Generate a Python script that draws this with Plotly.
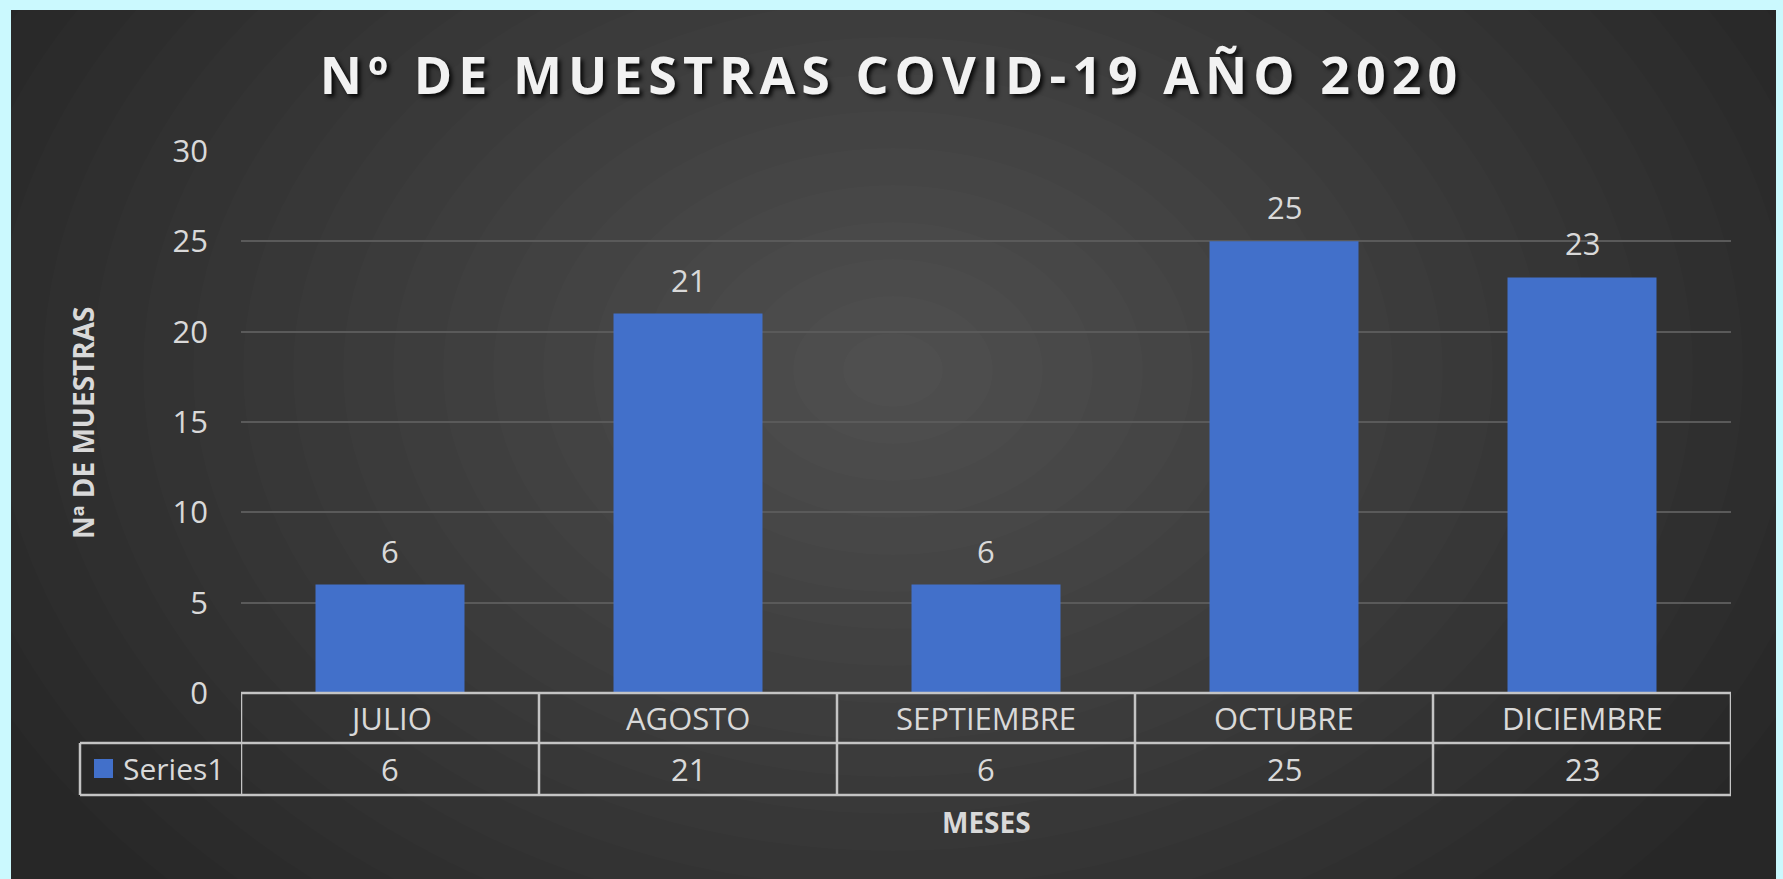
import plotly.graph_objects as go

# ---- data ----
months = ["JULIO", "AGOSTO", "SEPTIEMBRE", "OCTUBRE", "DICIEMBRE"]
samples = [6, 21, 6, 25, 23]
series_name = "Series1"
title_text = "Nº DE MUESTRAS COVID-19 AÑO 2020"
y_title = "Nª DE MUESTRAS"
x_title = "MESES"
y_ticks = [0, 5, 10, 15, 20, 25, 30]

# ---- geometry (pixels) ----
W, H = 1783, 879
L, R, T, B = 241, 52, 151, 186
PW, PH = W - L - R, H - T - B


def px2x(px):
    return (px - L) / PW


def py2y(py):
    return (H - B - py) / PH


BAR = "#4270CA"
TXT = "#D9D9D9"
LINE = "#C4C4C4"
CYAN = "#CBF9FE"
FONT = "Open Sans"

fig = go.Figure()
fig.add_trace(go.Bar(x=months, y=samples, name=series_name,
                     marker=dict(color=BAR, line=dict(width=0)),
                     showlegend=False, hoverinfo="x+y"))

shapes = []
# radial-ish background glow
N = 20
cx, cy, rx, ry = 893, 370, 1000, 740
for i in range(N):
    k = 1 - i / N
    shapes.append(dict(type="circle", xref="paper", yref="paper", layer="below",
                       x0=px2x(cx - rx * k), x1=px2x(cx + rx * k),
                       y0=py2y(cy + ry * k), y1=py2y(cy - ry * k),
                       fillcolor="rgba(255,255,255,0.0125)", line=dict(width=0)))
# cyan frame
for (a, b, c, d) in [(-10, 11, -10, 890), (-10, 1795, -10, 10), (1776, 1795, -10, 890)]:
    shapes.append(dict(type="rect", xref="paper", yref="paper", layer="below",
                       x0=px2x(a), x1=px2x(b), y0=py2y(d), y1=py2y(c),
                       fillcolor=CYAN, line=dict(width=0)))

# data table
y_top, y_mid, y_bot = py2y(693), py2y(743), py2y(795)
lw = 2.5
shapes.append(dict(type="line", xref="x", yref="paper", x0=-0.5, x1=len(months) - 0.5,
                   y0=y_top, y1=y_top, line=dict(color=LINE, width=lw)))
shapes.append(dict(type="line", xref="paper", yref="paper", x0=px2x(80), x1=1,
                   y0=y_mid, y1=y_mid, line=dict(color=LINE, width=lw)))
shapes.append(dict(type="line", xref="paper", yref="paper", x0=px2x(80), x1=1,
                   y0=y_bot, y1=y_bot, line=dict(color=LINE, width=lw)))
shapes.append(dict(type="line", xref="paper", yref="paper", x0=px2x(80), x1=px2x(80),
                   y0=y_mid, y1=y_bot, line=dict(color=LINE, width=lw)))
for i in range(len(months) + 1):
    shapes.append(dict(type="line", xref="x", yref="paper", x0=i - 0.5, x1=i - 0.5,
                       y0=y_top, y1=y_bot, line=dict(color=LINE, width=lw)))
# legend key
shapes.append(dict(type="rect", xref="paper", yref="paper",
                   x0=px2x(94), x1=px2x(113), y0=py2y(778), y1=py2y(759),
                   fillcolor=BAR, line=dict(width=0)))

ann = []
for m, v in zip(months, samples):
    ann.append(dict(x=m, y=v, xref="x", yref="y", text=str(v), showarrow=False,
                    xanchor="center", yanchor="middle",
                    yshift=34, font=dict(family=FONT, size=31, color=TXT)))
    ann.append(dict(x=m, y=py2y(718), xref="x", yref="paper", text=m, showarrow=False,
                    xanchor="center", yanchor="middle",
                    font=dict(family=FONT, size=31, color=TXT)))
    ann.append(dict(x=m, y=py2y(769), xref="x", yref="paper", text=str(v), showarrow=False,
                    xanchor="center", yanchor="middle",
                    font=dict(family=FONT, size=31, color=TXT)))
ann.append(dict(x=px2x(121), y=py2y(769), xref="paper", yref="paper", text=series_name,
                xanchor="left", yanchor="middle", showarrow=False,
                font=dict(family=FONT, size=30, color=TXT)))
ann.append(dict(x=0.5, y=py2y(822), xref="paper", yref="paper", text="<b>" + x_title + "</b>",
                xanchor="center", yanchor="middle",
                showarrow=False, font=dict(family=FONT, size=28, color=TXT)))
ann.append(dict(x=px2x(83), y=py2y(423), xref="paper", yref="paper", text="<b>" + y_title + "</b>",
                xanchor="center", yanchor="middle",
                textangle=-90, showarrow=False, font=dict(family=FONT, size=28, color=TXT)))

fig.update_layout(
    width=W, height=H,
    margin=dict(l=L, r=R, t=T, b=B),
    paper_bgcolor="#272727",
    plot_bgcolor="rgba(0,0,0,0)",
    bargap=0.5,
    title=dict(text='<span style="letter-spacing:6px">' + title_text + '</span>',
               x=0.5, xref="container", xanchor="center",
               y=1 - 76 / H, yref="container", yanchor="middle",
               font=dict(family=FONT, size=52, color="#F2F2F2", weight="bold",
                         shadow="3px 3px 4px rgba(0,0,0,0.85)")),
    xaxis=dict(type="category", range=[-0.5, len(months) - 0.5], showticklabels=False,
               showgrid=False, zeroline=False, showline=False, fixedrange=True),
    yaxis=dict(range=[0, 30], tickvals=y_ticks, showgrid=True, gridcolor="#5A5A5A",
               gridwidth=1.5, zeroline=False, showline=False, ticks="",
               ticklabelstandoff=32,
               tickfont=dict(family=FONT, size=31, color=TXT)),
    shapes=shapes,
    annotations=ann,
)

fig.write_html("out.html", config={"displayModeBar": False},
               post_script="document.body.style.margin='0';document.body.style.background='%s';" % CYAN)
